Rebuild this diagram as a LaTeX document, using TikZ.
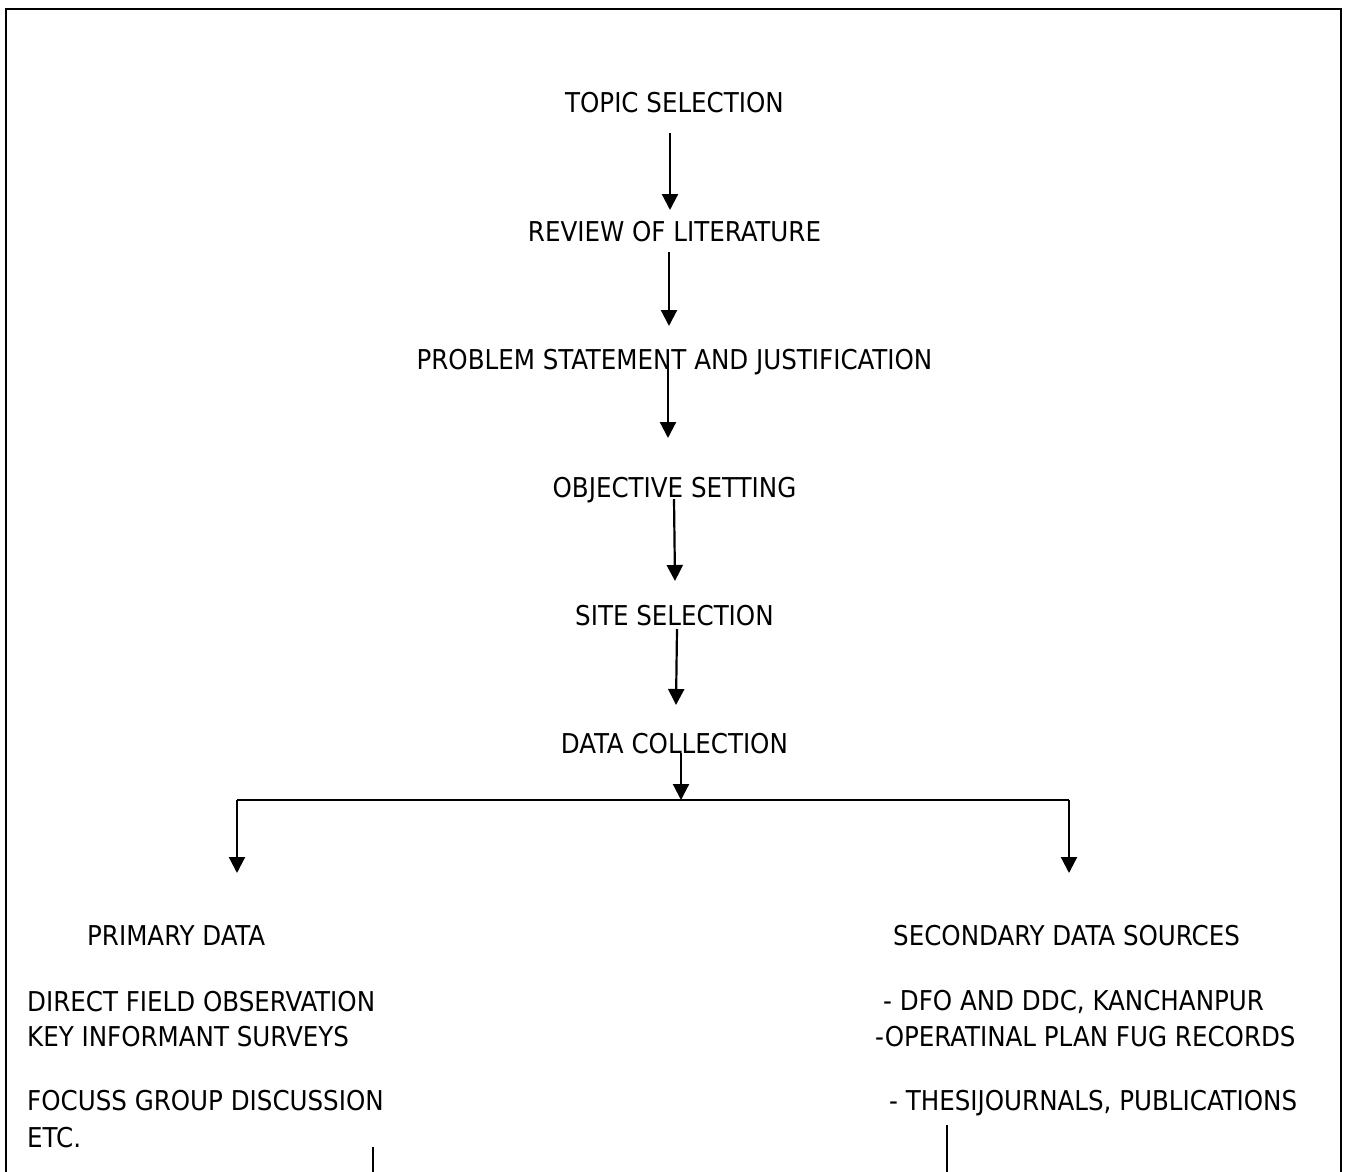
\documentclass[tikz,border=0pt]{standalone}
\usepackage{fontspec}
\setmainfont{DejaVu Sans Condensed}
\usetikzlibrary{arrows.meta}
\begin{document}
\begin{tikzpicture}[x=1pt,y=-1pt,
  lbl/.style={inner sep=0pt, font=\fontsize{27.3}{31}\selectfont},
  flow/.style={line width=2.2pt, -{Triangle[width=16pt,length=16pt]}},
  plainline/.style={line width=2.2pt}]
\useasboundingbox (0,0) rectangle (1347,1172);
% frame (open at the bottom)
\draw[line width=2.8pt] (6,1190) -- (6,9) -- (1341,9) -- (1341,1190);

% main sequence of steps
\node[lbl,anchor=base] (topic)   at (674.5,113) {TOPIC SELECTION};
\node[lbl,anchor=base] (review)  at (674.5,241) {REVIEW OF LITERATURE};
\node[lbl,anchor=base] (problem) at (674.5,369) {PROBLEM STATEMENT AND JUSTIFICATION};
\node[lbl,anchor=base] (object)  at (674.5,497) {OBJECTIVE SETTING};
\node[lbl,anchor=base] (site)    at (674.5,625) {SITE SELECTION};
\node[lbl,anchor=base] (data)    at (674.5,753) {DATA COLLECTION};

% arrow end points
\coordinate (a1s) at (670,133); \coordinate (a1e) at (670,210);
\coordinate (a2s) at (669,252); \coordinate (a2e) at (669,326);
\coordinate (a3s) at (668,369); \coordinate (a3e) at (668,438);
\coordinate (a4s) at (674,499); \coordinate (a4e) at (675,581);
\coordinate (a5s) at (677,629); \coordinate (a5e) at (676,705);
\coordinate (a6s) at (681,753); \coordinate (a6e) at (681,800);
\coordinate (bl) at (237,800);  \coordinate (br) at (1069,800);
\coordinate (blt) at (237,873); \coordinate (brt) at (1069,873);

\draw[flow] (a1s) -- (a1e);
\draw[flow] (a2s) -- (a2e);
\draw[flow] (a3s) -- (a3e);
\draw[flow] (a4s) -- (a4e);
\draw[flow] (a5s) -- (a5e);
\draw[flow] (a6s) -- (a6e);
\draw[plainline] (bl) -- (br);
\draw[flow] (bl) -- (blt);
\draw[flow] (br) -- (brt);

% primary data branch
\node[lbl,anchor=base west] (prim)  at (87,945)  {PRIMARY DATA};
\node[lbl,anchor=base west] (p1)    at (27,1011) {DIRECT FIELD OBSERVATION};
\node[lbl,anchor=base west] (p2)    at (27,1046) {KEY INFORMANT SURVEYS};
\node[lbl,anchor=base west] (p3)    at (27,1110) {FOCUSS GROUP DISCUSSION};
\node[lbl,anchor=base west] (p4)    at (27,1147) {ETC.};

% secondary data branch
\node[lbl,anchor=base west] (sec)   at (893,945)  {SECONDARY DATA SOURCES};
\node[lbl,anchor=base west] (s1)    at (883,1010) {- DFO AND DDC, KANCHANPUR};
\node[lbl,anchor=base west] (s2)    at (875,1046) {-OPERATINAL PLAN FUG RECORDS};
\node[lbl,anchor=base west] (s3)    at (889,1110) {- THESIJOURNALS, PUBLICATIONS};

% lines leaving both branches downwards
\coordinate (pl) at (373,1147); \coordinate (plb) at (373,1180);
\coordinate (sl) at (947,1125); \coordinate (slb) at (947,1180);
\draw[plainline] (pl) -- (plb);
\draw[plainline] (sl) -- (slb);
\end{tikzpicture}
\end{document}
